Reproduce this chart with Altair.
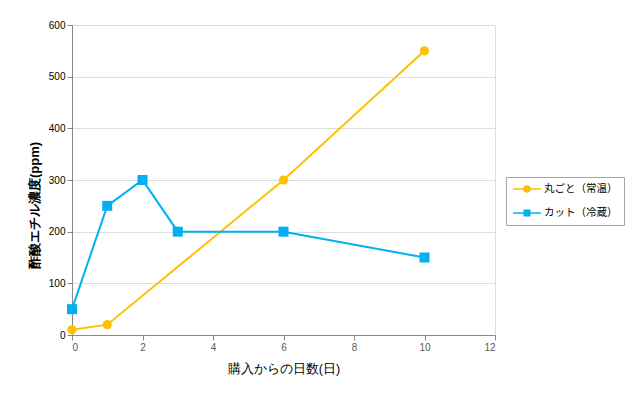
import altair as alt
import pandas as pd

series = ["丸ごと（常温）", "カット（冷蔵）"]
whole_days = [0, 1, 6, 10]
whole_vals = [10, 20, 300, 550]
cut_days = [0, 1, 2, 3, 6, 10]
cut_vals = [50, 250, 300, 200, 200, 150]
x_ticks = [0, 2, 4, 6, 8, 10, 12]
y_ticks = [0, 100, 200, 300, 400, 500, 600]
colors = ["#FFC000", "#00B0F0"]

df = pd.DataFrame({
    "day": whole_days + cut_days,
    "value": whole_vals + cut_vals,
    "series": [series[0]] * len(whole_days) + [series[1]] * len(cut_days),
})

JP = "Noto Sans CJK JP"

circle_path = "M-1,0H4.6M1.2,0A0.6,0.6,0,1,0,2.4,0A0.6,0.6,0,1,0,1.2,0Z"
square_path = "M-1,0H4.6M1.25,-0.55H2.35V0.55H1.25Z"
sym_expr = f"datum.value == '{series[0]}' ? '{circle_path}' : '{square_path}'"
col_expr = f"datum.value == '{series[0]}' ? '{colors[0]}' : '{colors[1]}'"

legend = alt.Legend(
    title=None, orient="none", legendX=434, legendY=152,
    symbolType=alt.ExprRef(sym_expr),
    symbolFillColor=alt.ExprRef(col_expr),
    symbolStrokeColor=alt.ExprRef(col_expr),
    symbolSize=100, symbolStrokeWidth=1.6,
    labelOffset=20, labelFont=JP, labelFontSize=10.5, labelColor="#000000",
    strokeColor="#A6A6A6", fillColor="#FFFFFF", padding=6, rowPadding=11,
)

color_scale = alt.Scale(domain=series, range=colors)

x = alt.X("day:Q", scale=alt.Scale(domain=[0, 12], nice=False),
          axis=alt.Axis(values=x_ticks, title="購入からの日数(日)", grid=False,
                        labelColor="#595959", titlePadding=10,
                        titleFontWeight="normal", titleFontSize=12.5))
y = alt.Y("value:Q", scale=alt.Scale(domain=[0, 600], nice=False),
          axis=alt.Axis(values=y_ticks, title="酢酸エチル濃度(ppm)", grid=True,
                        labelColor="#000000", titleFontWeight="bold",
                        titleFontSize=13, titlePadding=7, titleY=180))

base = alt.Chart(df)

lines = base.mark_line(strokeWidth=2).encode(
    x=x, y=y, color=alt.Color("series:N", scale=color_scale, legend=legend)
)
circles = base.transform_filter(alt.datum.series == series[0]).mark_point(
    shape="circle", filled=True, size=85, opacity=1
).encode(x=x, y=y, color=alt.Color("series:N", scale=color_scale, legend=None))
squares = base.transform_filter(alt.datum.series == series[1]).mark_point(
    shape="square", filled=True, size=100, opacity=1
).encode(x=x, y=y, color=alt.Color("series:N", scale=color_scale, legend=None))

chart = alt.layer(lines, circles, squares).properties(
    width=423, height=310,
    padding={"left": 72, "top": 25, "right": 134, "bottom": 65},
    autosize=alt.AutoSizeParams(type="none"),
).configure_view(stroke=None).configure_axis(
    domainColor="#868686", tickColor="#868686", tickSize=5,
    gridColor="#BFBFBF", labelFont="DejaVu Sans", labelFontSize=11,
    labelPadding=6, titleFont=JP, titleFontSize=12, titleColor="#000000",
).configure(background="white")

chart.save("out.html", embed_options={"renderer": "svg", "actions": False})
